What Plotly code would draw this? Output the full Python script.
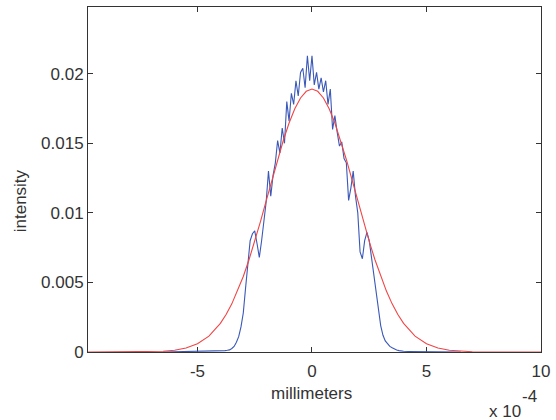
import plotly.graph_objects as go

# x in units of 1e-4 mm
blue_x = [-6.5, -6.0, -5.5, -5.0, -4.5, -4.2,
          -4.0, -3.9, -3.8, -3.7, -3.6, -3.5, -3.4, -3.3, -3.2, -3.1,
          -3.0, -2.9, -2.8, -2.7, -2.6, -2.5, -2.4, -2.3, -2.2, -2.1,
          -2.0, -1.9, -1.8, -1.7, -1.6, -1.5, -1.4, -1.3, -1.2, -1.1,
          -1.0, -0.9, -0.8, -0.7, -0.6, -0.5, -0.4, -0.3, -0.2, -0.1,
          0.0, 0.1, 0.2, 0.3, 0.4, 0.5, 0.6, 0.7, 0.8, 0.9,
          1.0, 1.1, 1.2, 1.3, 1.4, 1.5, 1.6, 1.7, 1.8, 1.9,
          2.0, 2.1, 2.2, 2.3, 2.4, 2.5, 2.6, 2.7, 2.8, 2.9,
          3.0, 3.1, 3.2, 3.3, 3.4, 3.5, 3.6, 3.7, 3.8, 3.9,
          4.0, 4.2, 4.5, 5.0, 5.5, 6.0, 6.5]
blue_y = [0.0, 0.00002, 0.00002, 0.00003, 0.00003, 0.00005,
          0.00005, 0.00007, 0.0001, 0.00012, 0.00015, 0.00025, 0.0004, 0.0007, 0.0011, 0.0018,
          0.0028, 0.0046, 0.0064, 0.0080, 0.0085, 0.0087, 0.0078, 0.0068, 0.0080, 0.0095,
          0.0108, 0.0130, 0.0112, 0.0127, 0.0136, 0.0152, 0.0143, 0.0161, 0.0150, 0.0180,
          0.0166, 0.0186, 0.0178, 0.0195, 0.0184, 0.0201, 0.0204, 0.0190, 0.0213, 0.0195,
          0.0213, 0.0192, 0.0201, 0.0189, 0.0197, 0.0187, 0.0195, 0.0178, 0.0189, 0.0160,
          0.0170, 0.0158, 0.0148, 0.0151, 0.0139, 0.0136, 0.0109, 0.0118, 0.0130, 0.0112,
          0.0100, 0.0072, 0.0067, 0.0080, 0.0086, 0.0080, 0.0068, 0.0056, 0.0042, 0.0029,
          0.0019, 0.0012, 0.0008, 0.0006, 0.0004, 0.0003, 0.0002, 0.00015, 0.0001, 0.00007,
          0.00005, 0.00004, 0.00003, 0.00003, 0.00002, 0.00002, 0.0]

red_x = [-9.78, -9.0, -8.0, -7.0, -6.5, -6.0, -5.5, -5.0, -4.5, -4.0,
         -3.75, -3.5, -3.25, -3.0, -2.75, -2.5, -2.25, -2.0, -1.75, -1.5,
         -1.25, -1.0, -0.75, -0.5, -0.25, 0.0, 0.25, 0.5, 0.75, 1.0,
         1.25, 1.5, 1.75, 2.0, 2.25, 2.5, 2.75, 3.0, 3.25, 3.5,
         3.75, 4.0, 4.5, 5.0, 5.5, 6.0, 6.5, 7.0, 8.0, 9.0, 10.0]
red_y = [0.0, 0.0, 0.0, 0.00002, 0.00005, 0.00013, 0.00029, 0.00059, 0.00114, 0.00206,
         0.00269, 0.00346, 0.00438, 0.00543, 0.00663, 0.00795, 0.00937, 0.01086, 0.01237, 0.01384,
         0.01522, 0.01646, 0.01748, 0.01826, 0.01874, 0.01890, 0.01874, 0.01826, 0.01748, 0.01646,
         0.01522, 0.01384, 0.01237, 0.01086, 0.00937, 0.00795, 0.00663, 0.00543, 0.00438, 0.00346,
         0.00269, 0.00206, 0.00114, 0.00059, 0.00029, 0.00013, 0.00005, 0.00002, 0.0, 0.0, 0.0]

x_ticks = [-5, 0, 5, 10]
x_tick_labels = ["-5", "0", "5", "10"]
y_ticks = [0, 0.005, 0.01, 0.015, 0.02]
y_tick_labels = ["0", "0.005", "0.01", "0.015", "0.02"]

FONT = "Liberation Sans, Arial, Helvetica, sans-serif"
TXT = "#333333"

fig = go.Figure()
fig.add_trace(go.Scatter(x=blue_x, y=blue_y, mode="lines",
                         line=dict(color="#3a58b8", width=1.1), showlegend=False))
fig.add_trace(go.Scatter(x=red_x, y=red_y, mode="lines",
                         line=dict(color="#f04545", width=1.1), showlegend=False))

axis_common = dict(showgrid=False, zeroline=False, showline=True, linecolor="#333333",
                   linewidth=1, mirror="ticks", ticks="inside", ticklen=5,
                   tickcolor="#333333", tickwidth=1, layer="below traces",
                   tickfont=dict(family=FONT, size=17, color=TXT))

fig.update_layout(
    width=556, height=420,
    margin=dict(l=88, r=10, t=6, b=68),
    paper_bgcolor="white", plot_bgcolor="white",
    xaxis=dict(range=[-9.78, 10], tickvals=x_ticks, ticktext=x_tick_labels,
               ticklabelstandoff=4, **axis_common),
    yaxis=dict(range=[0, 0.0248], tickvals=y_ticks, ticktext=y_tick_labels, **axis_common),
    annotations=[
        dict(text="millimeters", x=0.4934, y=-0.121, xref="paper", yref="paper",
             xanchor="center", yanchor="middle", showarrow=False,
             font=dict(family=FONT, size=17, color=TXT)),
        dict(text="intensity", x=-0.1485, y=0.439, xref="paper", yref="paper",
             xanchor="center", yanchor="middle", showarrow=False, textangle=-90,
             font=dict(family=FONT, size=17, color=TXT)),
        dict(text="x 10", x=0.921, y=-0.172, xref="paper", yref="paper",
             xanchor="center", yanchor="middle", showarrow=False,
             font=dict(family=FONT, size=17, color=TXT)),
        dict(text="-4", x=0.975, y=-0.128, xref="paper", yref="paper",
             xanchor="center", yanchor="middle", showarrow=False,
             font=dict(family=FONT, size=17, color=TXT)),
    ],
)

fig.write_html("out.html")
